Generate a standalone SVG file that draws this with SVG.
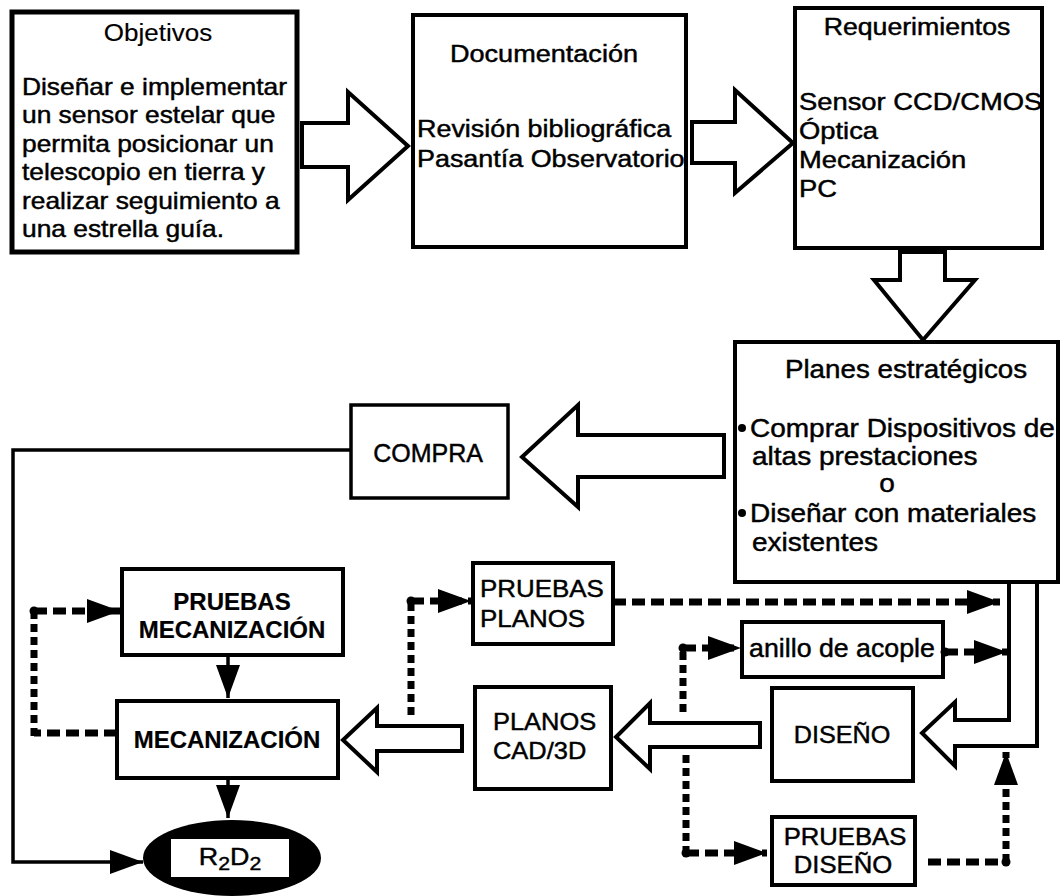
<svg xmlns="http://www.w3.org/2000/svg" width="1060" height="896" viewBox="0 0 1060 896">
<defs>
<style>
.t{font-family:"Liberation Sans",Arial,sans-serif;font-size:23px;fill:#000;stroke:#000;stroke-width:0.45}
.thin{stroke-width:0.15}
.b{font-weight:bold;stroke-width:0.2}
.m{text-anchor:middle}
.box{fill:#fff;stroke:#000;stroke-width:4}
.barrow{fill:#fff;stroke:#000;stroke-width:4;stroke-linejoin:miter}
.solid{fill:none;stroke:#000;stroke-width:3.5}
.dh{fill:none;stroke:#000;stroke-width:7;stroke-dasharray:13 6}
.dv{fill:none;stroke:#000;stroke-width:7;stroke-dasharray:8 5}
.dot{fill:#000}
</style>
<marker id="ah" markerUnits="userSpaceOnUse" markerWidth="34" markerHeight="24" refX="33" refY="12" orient="auto">
<path d="M0,0 L33,12 L0,24 z" fill="#000"/>
</marker>
</defs>
<rect width="1060" height="896" fill="#fff"/>

<g id="objetivos">
<rect class="box" x="12" y="12" width="285" height="240" style="stroke-width:5"/>
<text class="t m thin" transform="translate(158,41) scale(1.13,1)">Objetivos</text>
<text class="t" transform="translate(22,95) scale(1.146,1)">Diseñar e implementar</text>
<text class="t" transform="translate(22,123.4) scale(1.146,1)">un sensor estelar que</text>
<text class="t" transform="translate(22,151.8) scale(1.146,1)">permita posicionar un</text>
<text class="t" transform="translate(22,180.2) scale(1.146,1)">telescopio en tierra y</text>
<text class="t" transform="translate(22,208.6) scale(1.146,1)">realizar seguimiento a</text>
<text class="t" transform="translate(22,237) scale(1.146,1)">una estrella guía.</text>
</g>

<g id="documentacion">
<rect class="box" x="413" y="15" width="273" height="232"/>
<text class="t m" transform="translate(544,62) scale(1.177,1)">Documentación</text>
<text class="t" transform="translate(417,137) scale(1.17,1)">Revisión bibliográfica</text>
<text class="t" transform="translate(417,167) scale(1.17,1)">Pasantía Observatorio</text>
</g>

<g id="requerimientos">
<rect class="box" x="795" y="8" width="247" height="240"/>
<text class="t m" transform="translate(917,35) scale(1.16,1)">Requerimientos</text>
<text class="t" transform="translate(799,110) scale(1.19,1)">Sensor CCD/CMOS</text>
<text class="t" transform="translate(799,139) scale(1.19,1)">Óptica</text>
<text class="t" transform="translate(799,168) scale(1.19,1)">Mecanización</text>
<text class="t" transform="translate(799,197) scale(1.19,1)">PC</text>
</g>

<g id="planes">
<rect class="box" x="735" y="342" width="323" height="240"/>
<text class="t m" transform="translate(906,378) scale(1.11,1)" style="font-size:25px">Planes estratégicos</text>
<circle class="dot" cx="742" cy="428" r="4"/>
<text class="t" transform="translate(750,437) scale(1.12,1)" style="font-size:25px">Comprar Dispositivos de</text>
<text class="t" transform="translate(752,465) scale(1.12,1)" style="font-size:25px">altas prestaciones</text>
<text class="t m" transform="translate(887,492) scale(1.12,1)" style="font-size:25px">o</text>
<circle class="dot" cx="742" cy="513" r="4"/>
<text class="t" transform="translate(750,522) scale(1.12,1)" style="font-size:25px">Diseñar con materiales</text>
<text class="t" transform="translate(752,551) scale(1.12,1)" style="font-size:25px">existentes</text>
</g>

<g id="compra">
<rect class="box" x="351" y="405" width="157" height="93" style="stroke-width:3.5"/>
<text class="t m" transform="translate(428,462)" style="font-size:25px">COMPRA</text>
</g>

<g id="pruebas-mecanizacion">
<rect class="box" x="122" y="569" width="221" height="86"/>
<text class="t b m" transform="translate(232,610)" style="font-size:24px">PRUEBAS</text>
<text class="t b m" transform="translate(232,638)" style="font-size:24px">MECANIZACIÓN</text>
</g>

<g id="mecanizacion">
<rect class="box" x="117" y="701" width="221" height="77"/>
<text class="t b m" transform="translate(227,748)" style="font-size:24px">MECANIZACIÓN</text>
</g>

<g id="r2d2">
<ellipse cx="232" cy="858" rx="89" ry="38" fill="#000"/>
<rect x="170" y="838" width="120" height="40" fill="#fff" stroke="#000" stroke-width="2"/>
<text class="t m" transform="translate(230,865) scale(1.12,1)" style="font-size:24px">R<tspan style="font-size:19px" dy="5">2</tspan><tspan dy="-5">D</tspan><tspan style="font-size:19px" dy="5">2</tspan></text>
</g>

<g id="pruebas-planos">
<rect class="box" x="473" y="563" width="140" height="81"/>
<text class="t" transform="translate(480,597) scale(1.08,1)" style="font-size:24px">PRUEBAS</text>
<text class="t" transform="translate(480,627) scale(1.08,1)" style="font-size:24px">PLANOS</text>
</g>

<g id="planos-cad">
<rect class="box" x="475" y="687" width="136" height="102"/>
<text class="t" transform="translate(493,730) scale(1.06,1)" style="font-size:24px">PLANOS</text>
<text class="t" transform="translate(493,759) scale(1.06,1)" style="font-size:24px">CAD/3D</text>
</g>

<g id="anillo">
<rect class="box" x="742" y="622" width="201" height="55"/>
<text class="t m" transform="translate(842,657) scale(1.07,1)" style="font-size:25px">anillo de acople</text>
</g>

<g id="diseno">
<rect class="box" x="772" y="688" width="141" height="93"/>
<text class="t m" transform="translate(842,743) scale(1.05,1)" style="font-size:24px">DISEÑO</text>
</g>

<g id="pruebas-diseno">
<rect class="box" x="772" y="817" width="143" height="68"/>
<text class="t m" transform="translate(845,845) scale(1.07,1)" style="font-size:24px">PRUEBAS</text>
<text class="t m" transform="translate(843,873) scale(1.07,1)" style="font-size:24px">DISEÑO</text>
</g>

<g id="connectors">
<polygon class="barrow" points="302,123 348,123 348,92 408,146 348,200 348,167 302,167"/>
<polygon class="barrow" points="692,122 735,122 735,90 793,143 735,193 735,163 692,163"/>
<polygon class="barrow" points="900,252 945,252 945,280 975,280 923,340 874,280 900,280"/>
<polygon class="barrow" points="724,435 578,435 578,405 522,457 578,507 578,477 724,477"/>
<path class="barrow" d="M1009,584 V720 H955 V702 L922,733 L955,766 V746 H1037 V584"/>
<polygon class="barrow" points="760,723 650,723 650,703 616,737 650,769 650,747 760,747"/>
<polygon class="barrow" points="462,726 377,726 377,708 343,740 377,772 377,751 462,751"/>

<polyline class="solid" points="351,450 13,450 13,862 143,862" marker-end="url(#ah)"/>
<line class="solid" x1="228" y1="655" x2="228" y2="698" marker-end="url(#ah)"/>
<line class="solid" x1="228" y1="778" x2="228" y2="818" marker-end="url(#ah)"/>

<line class="dh" x1="117" y1="733" x2="34" y2="733"/>
<line class="dv" x1="34" y1="736" x2="34" y2="611"/>
<line class="dh" x1="34" y1="611" x2="120" y2="611" marker-end="url(#ah)"/>
<circle class="dot" cx="34" cy="611" r="4.5"/>

<line class="dv" x1="411" y1="715" x2="411" y2="601"/>
<line class="dh" x1="411" y1="601" x2="471" y2="601" marker-end="url(#ah)"/>
<circle class="dot" cx="411" cy="601" r="4.5"/>

<line class="dh" x1="613" y1="602" x2="1000" y2="602" marker-end="url(#ah)"/>

<line class="dv" x1="683" y1="712" x2="683" y2="648"/>
<line class="dh" x1="683" y1="648" x2="741" y2="648" marker-end="url(#ah)"/>
<circle class="dot" cx="683" cy="648" r="4.5"/>

<line class="dh" x1="945" y1="652" x2="1007" y2="652" marker-end="url(#ah)"/>
<circle class="dot" cx="945" cy="652" r="4.5"/>

<line class="dv" x1="686" y1="755" x2="686" y2="853"/>
<line class="dh" x1="686" y1="853" x2="767" y2="853" marker-end="url(#ah)"/>
<circle class="dot" cx="686" cy="853" r="4.5"/>

<line class="dh" x1="928" y1="862" x2="1006" y2="862"/>
<line class="dv" x1="1006" y1="862" x2="1006" y2="752" marker-end="url(#ah)"/>
<circle class="dot" cx="1006" cy="862" r="4.5"/>
</g>
</svg>
